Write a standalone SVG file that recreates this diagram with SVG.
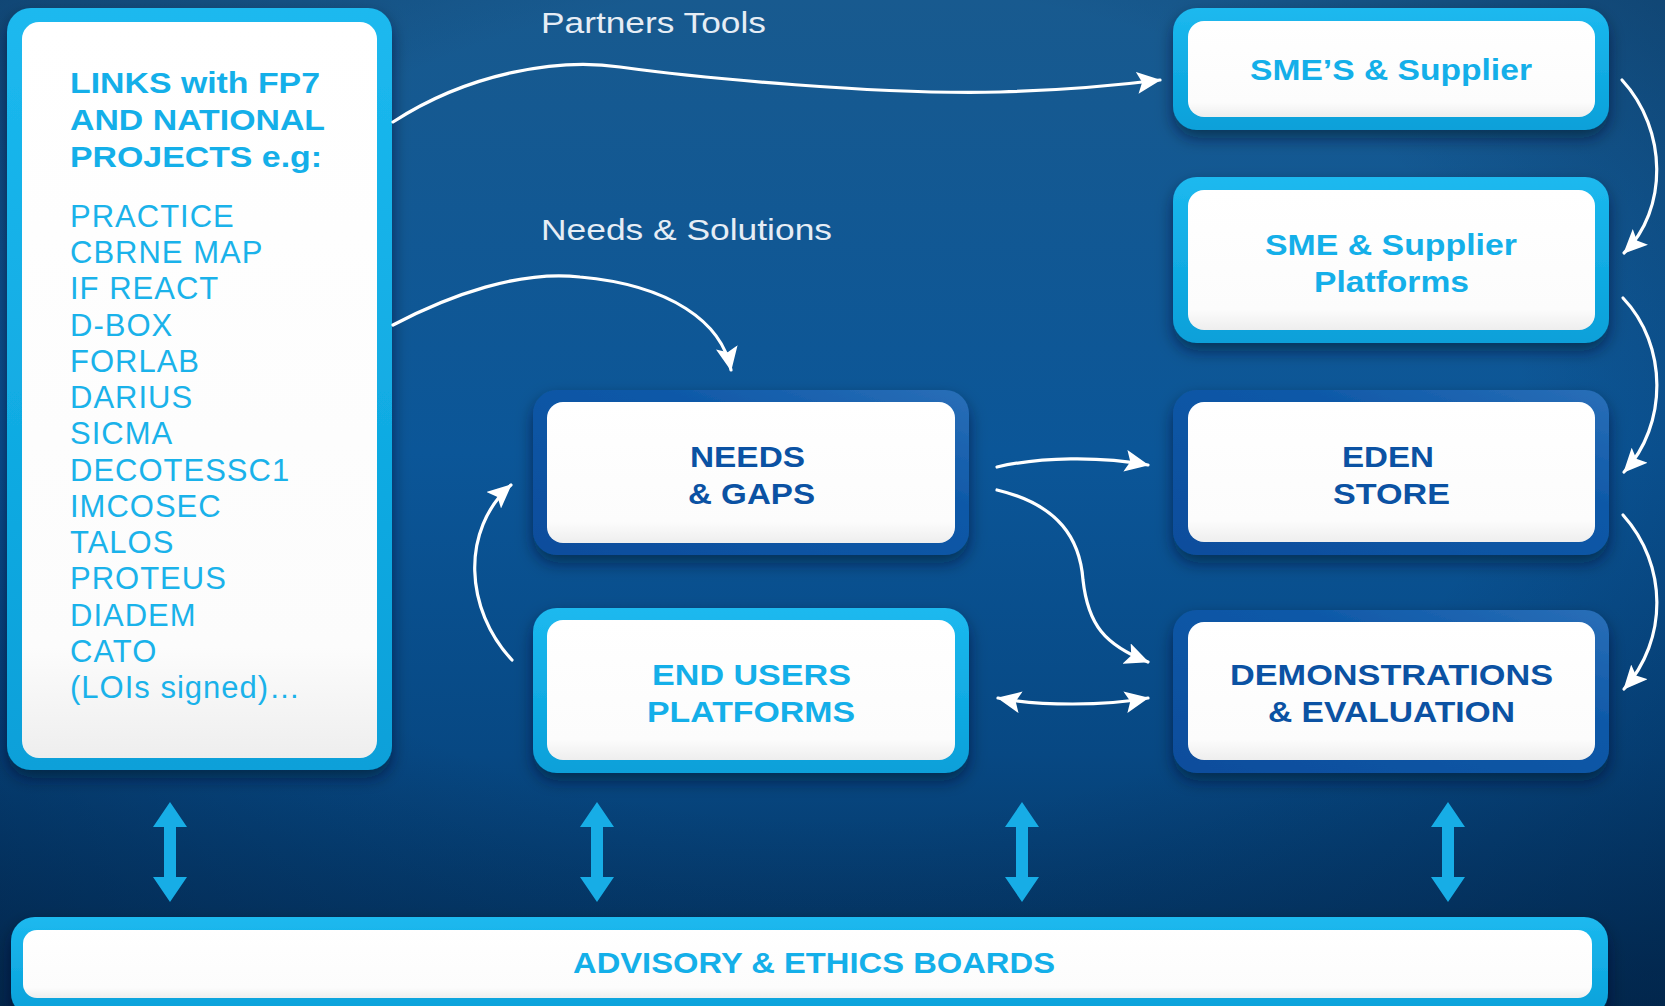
<svg xmlns="http://www.w3.org/2000/svg" width="1665" height="1006" viewBox="0 0 1665 1006">
  <defs>
    <linearGradient id="bg" x1="0" y1="0" x2="0" y2="1">
      <stop offset="0" stop-color="#185a8f"/>
      <stop offset="0.45" stop-color="#0b5698"/>
      <stop offset="0.75" stop-color="#074883"/>
      <stop offset="1" stop-color="#04315c"/>
    </linearGradient>
    <radialGradient id="vig" cx="0.5" cy="0.4" r="0.75">
      <stop offset="0.55" stop-color="#001a3a" stop-opacity="0"/>
      <stop offset="1" stop-color="#001a3a" stop-opacity="0.45"/>
    </radialGradient>
    <linearGradient id="cyanB" x1="0" y1="0" x2="0" y2="1">
      <stop offset="0" stop-color="#1cb9ef"/>
      <stop offset="1" stop-color="#08a0d9"/>
    </linearGradient>
    <linearGradient id="darkB" x1="1" y1="0" x2="0" y2="1">
      <stop offset="0" stop-color="#2a6fb8"/>
      <stop offset="0.35" stop-color="#0f59a8"/>
      <stop offset="1" stop-color="#0a4d9c"/>
    </linearGradient>
    <linearGradient id="white" x1="0" y1="0" x2="0" y2="1">
      <stop offset="0" stop-color="#ffffff"/>
      <stop offset="0.85" stop-color="#fcfcfc"/>
      <stop offset="1" stop-color="#eeeeee"/>
    </linearGradient>
    <filter id="sh" x="-10%" y="-10%" width="120%" height="130%">
      <feDropShadow dx="0" dy="8" stdDeviation="8" flood-color="#001428" flood-opacity="0.55"/>
    </filter>
    <marker id="ah" viewBox="0 0 24 22" refX="23" refY="11" markerWidth="24" markerHeight="22" markerUnits="userSpaceOnUse" orient="auto-start-reverse">
      <path d="M0,0 L24,11 L0,22 L5,11 Z" fill="#ffffff"/>
    </marker>
    <style>
      .cyan { fill: url(#cyanB); }
      .dark { fill: url(#darkB); }
      .inner { fill: url(#white); }
      .hd { font-family: "Liberation Sans", Arial, sans-serif; font-weight: bold; font-size: 30px; }
      .lt { fill: #14afe9; }
      .dk { fill: #0b52a3; }
      .item { font-family: "Liberation Sans", Arial, sans-serif; font-size: 31px; fill: #1ab2ea; letter-spacing: 1px; }
      .lbl { font-family: "Liberation Sans", Arial, sans-serif; font-size: 29px; fill: #e6edf5; }
      .conn { fill: none; stroke: #ffffff; stroke-width: 3.2; stroke-linecap: round; }
      .va { fill: #17ade6; }
    </style>
  </defs>

  <rect x="0" y="0" width="1665" height="1006" fill="url(#bg)"/>
  <rect x="0" y="0" width="1665" height="1006" fill="url(#vig)"/>

  <g id="links-box">
    <rect class="cyan" x="7" y="8" width="385" height="762" rx="24" filter="url(#sh)"/>
    <rect class="inner" x="22" y="22" width="355" height="736" rx="17"/>
    <text class="hd lt" x="70" y="93" textLength="250" lengthAdjust="spacingAndGlyphs">LINKS with FP7</text>
    <text class="hd lt" x="70" y="130" textLength="255" lengthAdjust="spacingAndGlyphs">AND NATIONAL</text>
    <text class="hd lt" x="70" y="167" textLength="252" lengthAdjust="spacingAndGlyphs">PROJECTS e.g:</text>
    <text class="item" x="70" y="227">PRACTICE</text>
    <text class="item" x="70" y="263">CBRNE MAP</text>
    <text class="item" x="70" y="299">IF REACT</text>
    <text class="item" x="70" y="336">D-BOX</text>
    <text class="item" x="70" y="372">FORLAB</text>
    <text class="item" x="70" y="408">DARIUS</text>
    <text class="item" x="70" y="444">SICMA</text>
    <text class="item" x="70" y="481">DECOTESSC1</text>
    <text class="item" x="70" y="517">IMCOSEC</text>
    <text class="item" x="70" y="553">TALOS</text>
    <text class="item" x="70" y="589">PROTEUS</text>
    <text class="item" x="70" y="626">DIADEM</text>
    <text class="item" x="70" y="662">CATO</text>
    <text class="item" x="70" y="698">(LOIs signed)…</text>
  </g>

  <g id="smes-supplier">
    <rect class="cyan" x="1173" y="8" width="436" height="122" rx="24" filter="url(#sh)"/>
    <rect class="inner" x="1188" y="21" width="407" height="96" rx="16"/>
    <text class="hd lt" x="1250" y="80" textLength="282" lengthAdjust="spacingAndGlyphs">SME’S &amp; Supplier</text>
  </g>

  <g id="sme-platforms">
    <rect class="cyan" x="1173" y="177" width="436" height="166" rx="24" filter="url(#sh)"/>
    <rect class="inner" x="1188" y="190" width="407" height="140" rx="16"/>
    <text class="hd lt" x="1265" y="255" textLength="252" lengthAdjust="spacingAndGlyphs">SME &amp; Supplier</text>
    <text class="hd lt" x="1314" y="292" textLength="155" lengthAdjust="spacingAndGlyphs">Platforms</text>
  </g>

  <g id="eden-store">
    <rect class="dark" x="1173" y="390" width="436" height="165" rx="24" filter="url(#sh)"/>
    <rect class="inner" x="1188" y="402" width="407" height="140" rx="16"/>
    <text class="hd dk" x="1342" y="467" textLength="92" lengthAdjust="spacingAndGlyphs">EDEN</text>
    <text class="hd dk" x="1333" y="504" textLength="117" lengthAdjust="spacingAndGlyphs">STORE</text>
  </g>

  <g id="demonstrations">
    <rect class="dark" x="1173" y="610" width="436" height="163" rx="24" filter="url(#sh)"/>
    <rect class="inner" x="1188" y="622" width="407" height="138" rx="16"/>
    <text class="hd dk" x="1230" y="685" textLength="323" lengthAdjust="spacingAndGlyphs">DEMONSTRATIONS</text>
    <text class="hd dk" x="1268" y="722" textLength="247" lengthAdjust="spacingAndGlyphs">&amp; EVALUATION</text>
  </g>

  <g id="needs-gaps">
    <rect class="dark" x="533" y="390" width="436" height="165" rx="24" filter="url(#sh)"/>
    <rect class="inner" x="547" y="402" width="408" height="141" rx="16"/>
    <text class="hd dk" x="690" y="467" textLength="115" lengthAdjust="spacingAndGlyphs">NEEDS</text>
    <text class="hd dk" x="688" y="504" textLength="127" lengthAdjust="spacingAndGlyphs">&amp; GAPS</text>
  </g>

  <g id="end-users">
    <rect class="cyan" x="533" y="608" width="436" height="165" rx="24" filter="url(#sh)"/>
    <rect class="inner" x="547" y="620" width="408" height="140" rx="16"/>
    <text class="hd lt" x="652" y="685" textLength="199" lengthAdjust="spacingAndGlyphs">END USERS</text>
    <text class="hd lt" x="647" y="722" textLength="208" lengthAdjust="spacingAndGlyphs">PLATFORMS</text>
  </g>

  <g id="advisory">
    <rect class="cyan" x="11" y="917" width="1597" height="100" rx="24" filter="url(#sh)"/>
    <rect class="inner" x="23" y="930" width="1569" height="68" rx="14"/>
    <text class="hd lt" x="573" y="973" textLength="482" lengthAdjust="spacingAndGlyphs">ADVISORY &amp; ETHICS BOARDS</text>
  </g>

  <g id="labels">
    <text class="lbl" x="541" y="33" textLength="225" lengthAdjust="spacingAndGlyphs">Partners Tools</text>
    <text class="lbl" x="541" y="240" textLength="291" lengthAdjust="spacingAndGlyphs">Needs &amp; Solutions</text>
  </g>

  <g id="connectors">
    <path class="conn" marker-end="url(#ah)" d="M393,122 C470,72 560,58 620,67 C700,78 880,95 1000,92 C1070,90 1120,85 1160,80"/>
    <path class="conn" marker-end="url(#ah)" d="M393,325 C450,295 520,270 580,277 C670,285 722,322 731,370"/>
    <path class="conn" marker-end="url(#ah)" d="M1622,80 C1668,130 1668,210 1624,253"/>
    <path class="conn" marker-end="url(#ah)" d="M1623,298 C1668,345 1668,425 1624,472"/>
    <path class="conn" marker-end="url(#ah)" d="M1623,515 C1668,565 1668,640 1624,689"/>
    <path class="conn" marker-end="url(#ah)" d="M997,467 C1040,457 1100,456 1148,465"/>
    <path class="conn" marker-end="url(#ah)" d="M997,490 C1060,505 1080,540 1083,580 C1088,625 1105,645 1148,662"/>
    <path class="conn" marker-start="url(#ah)" marker-end="url(#ah)" d="M998,698 C1040,706 1105,706 1148,698"/>
    <path class="conn" marker-end="url(#ah)" d="M512,660 C465,610 460,530 511,485"/>
    <path class="va" d="M170,802 L187,827 L176,827 L176,877 L187,877 L170,902 L153,877 L164,877 L164,827 L153,827 Z"/>
    <path class="va" d="M597,802 L614,827 L603,827 L603,877 L614,877 L597,902 L580,877 L591,877 L591,827 L580,827 Z"/>
    <path class="va" d="M1022,802 L1039,827 L1028,827 L1028,877 L1039,877 L1022,902 L1005,877 L1016,877 L1016,827 L1005,827 Z"/>
    <path class="va" d="M1448,802 L1465,827 L1454,827 L1454,877 L1465,877 L1448,902 L1431,877 L1442,877 L1442,827 L1431,827 Z"/>
  </g>
</svg>
